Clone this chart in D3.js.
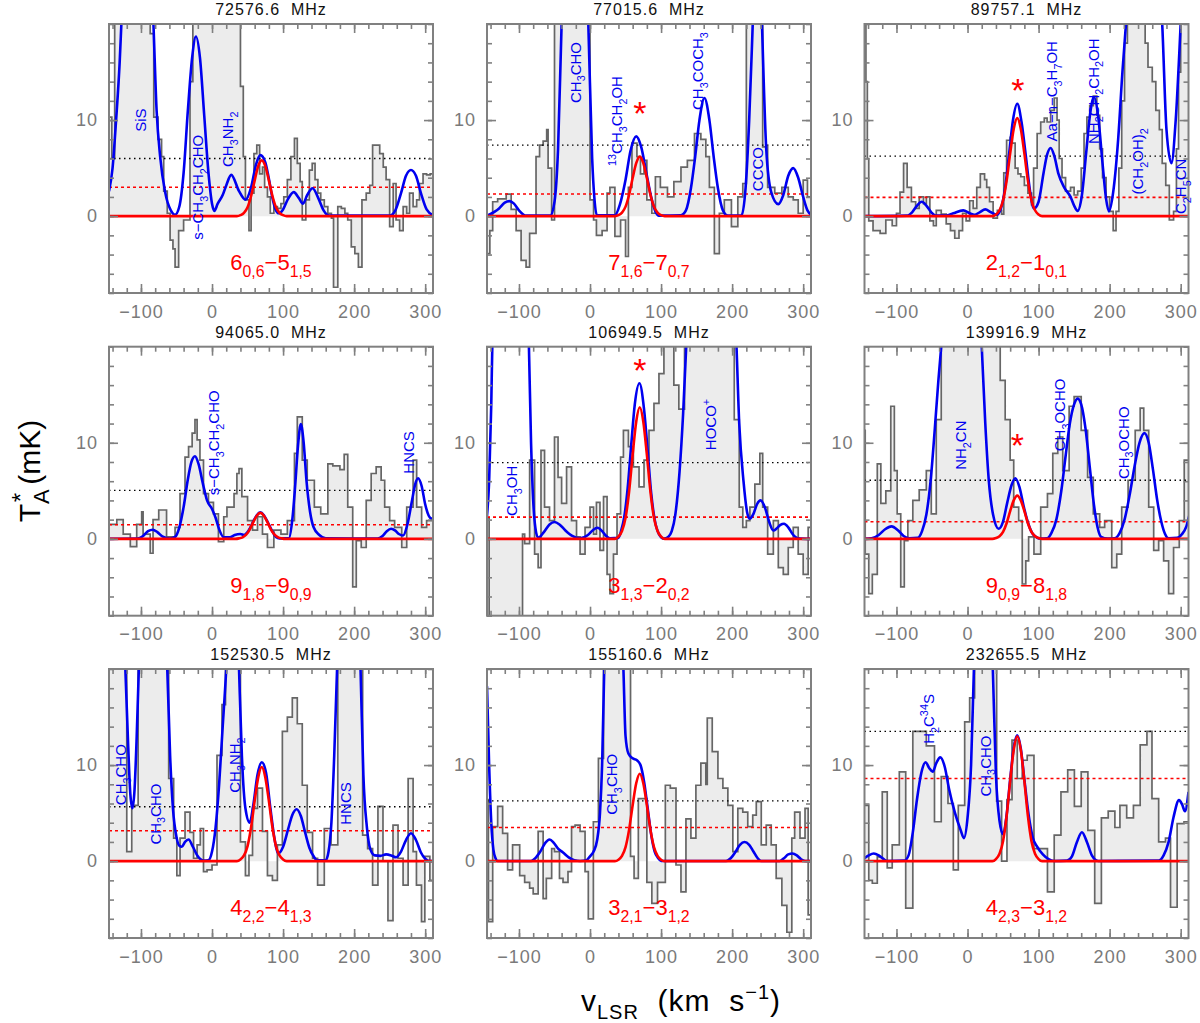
<!DOCTYPE html>
<meta charset="utf-8">
<style>
    body { margin: 0; background: #fff; }
    svg { display: block; }
    svg text { font-family: "Liberation Sans", Arial, Helvetica, sans-serif; }
    .title { font-size: 16px; fill: #111; letter-spacing: 1px; white-space: pre; }
    .axis text { font-size: 18px; fill: #7a7a7a; letter-spacing: 1px; }
    .axis line { stroke: #808080; stroke-width: 1.6px; }
</style>
<svg width="1200" height="1023"></svg>
<script src="https://cdn.jsdelivr.net/npm/d3@7/dist/d3.min.js"></script>
<script>

    // panel titles and transitions
    var frequencies = ["72576.6  MHz", "77015.6  MHz", "89757.1  MHz", "94065.0  MHz", "106949.5  MHz",
        "139916.9  MHz", "152530.5  MHz", "155160.6  MHz", "232655.5  MHz"];
    var transitions = ["6_{0,6}−5_{1,5}", "7_{1,6}−7_{0,7}", "2_{1,2}−1_{0,1}", "9_{1,8}−9_{0,9}", "3_{1,3}−2_{0,2}",
        "9_{0,9}−8_{1,8}", "4_{2,2}−4_{1,3}", "3_{2,1}−3_{1,2}", "4_{2,3}−3_{1,2}"];

    // dotted levels (mK)
    var levelBlack = [6.0, 7.4, 6.25, 5.05, 7.94, 6.1, 5.66, 6.28, 13.5];
    var levelRed = [3.0, 2.3, 1.95, 1.46, 2.26, 1.78, 3.16, 3.5, 8.6];

    // red asterisks [v, T]
    var stars = [null, [70, 11.5], [71, 13.9], null, [70, 18.3], [70, 10.5], null, null, null];

    // observed spectra: [v start of channel, T (mK)]
    var obs1 = [[-145,10.3],[-141,6.0],[-137,25],[-87,19],[-82,10.3],[-76,8],[-71,6.2],[-68,2.6],[-63,0.3],[-59,-2.5],[-55,-3.4],[-52,-5.3],[-47,-1.5],[-40,-0.4],[-31,14],[-27,25],[40,13.5],[44,6.2],[47,1.7],[52,-1.5],[55,2.4],[59,6.5],[63,7.4],[67,4.4],[71,5.1],[74,3.0],[78,2.0],[82,0.3],[87,1.0],[92,0.8],[97,1.3],[101,2.0],[106,3.8],[111,6.2],[116,8.1],[120,5.5],[124,3.6],[127,-0.4],[132,1.7],[137,4.8],[141,5.5],[145,3.8],[149,2.4],[153,1.7],[158,1.0],[163,0.3],[168,-0.2],[171,-7.4],[177,1.0],[182,0.8],[187,0.3],[191,-0.4],[196,-3.2],[201,-3.9],[206,-5.3],[211,1.7],[217,2.4],[222,3.2],[226,7.4],[231,7.4],[236,6.5],[241,5.1],[245,3.8],[250,-1.1],[255,3.4],[259,-0.4],[264,-1.5],[269,1.0],[274,0.3],[278,2.4],[283,1.0],[288,1.7],[292,3.4],[297,4.4],[302,4.3],[307,4.4],[312,4.4]];
    var obs2 = [[-145,-3.9],[-141,-1.5],[-137,1.5],[-130,1.8],[-118,2.3],[-111,0.7],[-104,-1.5],[-97,-4.6],[-90,-5.3],[-85,-1.8],[-76,6.2],[-71,7.4],[-66,7.8],[-61,9.0],[-59,5.0],[-54,-0.4],[-50,25],[0,1.7],[5,-0.4],[9,-2.0],[17,-1.5],[24,2.4],[28,3.0],[35,-2.1],[43,-0.4],[50,-4.2],[54,3.0],[59,7.6],[66,6.2],[71,4.4],[76,5.8],[80,1.7],[87,0.3],[92,4.1],[99,3.0],[109,2.0],[118,3.6],[128,5.1],[137,5.8],[147,8.6],[156,8.0],[163,6.2],[168,3.0],[175,-3.9],[182,0.3],[189,1.7],[199,-1.1],[208,2.0],[215,3.4],[220,25],[243,7.2],[250,3.0],[260,2.4],[270,3.0],[279,2.0],[286,1.7],[293,0.3],[300,3.75],[306,2.0],[312,2.0]];
    var obs3 = [[-145,20],[-143,14],[-141,6],[-139,-0.5],[-133,-1.5],[-123,-1.8],[-115,-0.4],[-106,-1.0],[-100,0.3],[-95,2.5],[-90,5.5],[-85,3.0],[-79,1.5],[-73,0.8],[-68,2.0],[-62,1.3],[-58,2.0],[-53,-0.5],[-48,-1.0],[-44,0.6],[-37,0.2],[-30,-0.8],[-24,-1.5],[-18,-2.3],[-12,-1.5],[-7,0.3],[-2,-0.5],[3,1.6],[8,0.8],[13,3.0],[18,4.4],[24,3.8],[27,3.0],[31,1.5],[36,-0.2],[42,0.6],[48,0.2],[51,4.5],[55,7.9],[60,8.2],[63,7.6],[67,5.0],[71,4.4],[75,4.1],[80,3.2],[85,2.4],[90,1.2],[93,5.0],[98,8.6],[103,9.8],[108,10.2],[112,9.8],[117,11.0],[122,12.3],[126,10.0],[129,6.0],[133,4.0],[138,2.6],[145,3.0],[150,2.2],[155,2.6],[160,5.0],[164,8.6],[168,10.3],[172,11.5],[177,12.5],[182,10.5],[186,7.0],[190,4.0],[195,2.0],[200,0.5],[205,-1.5],[209,0.5],[213,5],[217,12],[221,18],[225,25],[250,18],[254,15.5],[260,14],[265,11],[270,9],[274,5.5],[279,3.2],[284,-0.4],[290,0.5],[294,7],[297,15],[300,25],[312,25]];
    var obs4 = [[-145,1.5],[-134,2.0],[-125,0.5],[-115,-0.8],[-106,1.5],[-99,2.8],[-97,0.5],[-87,-1.5],[-83,2.0],[-75,3.0],[-64,0.2],[-52,1.2],[-45,4.7],[-38,8.5],[-33,9.6],[-28,11.0],[-24,12.4],[-21,10.3],[-17,8.2],[-12,4.7],[-5,3.8],[2,2.6],[9,-0.3],[16.5,2.3],[21,3.3],[31,4.7],[35,6.8],[38,7.3],[42,4.4],[50,1.9],[57,0.9],[64,2.3],[71,0.5],[78,-0.9],[87,0.9],[97,0.5],[106,1.9],[116,8.9],[120,12.7],[127,8.2],[134,6.1],[144,3.3],[153,2.6],[163,7.8],[170,7.6],[180,7.2],[186,8.8],[191,3.3],[198,-5.0],[203,-0.2],[210,-0.9],[217,4.0],[224,6.8],[231,7.5],[238,6.1],[243,3.3],[250,1.9],[257,1.2],[267,-0.9],[274,3.3],[283,8.2],[288,3.3],[295,1.2],[302,1.9],[312,1.9]];
    var obs5 = [[-145,2.2],[-142,-20],[-95,0.5],[-92,-0.5],[-85,8.2],[-78,-1.6],[-73,-3.0],[-69,9.2],[-64,3.3],[-57,1.9],[-50,10.6],[-45,6.4],[-40,3.7],[-33,7.5],[-26,1.9],[-19,0.2],[-14,-1.6],[-7,1.2],[0,3.3],[5,0.5],[9,3.8],[14,-1.2],[19,4.4],[24,-3.7],[28,-5.7],[33,-1.6],[38,2.6],[43,8.5],[47,11.3],[54,9.6],[61,7.5],[69,5.4],[76,8.2],[83,11.3],[90,14.1],[97,17.2],[104,22],[118,16],[125,13.5],[133,25],[203,12.4],[210,3.3],[215,1.2],[220,1.9],[225,3.3],[232,5.7],[239,8.9],[243,3.3],[250,-1.6],[258,1.9],[265,-3.0],[272,-3.7],[279,-0.9],[286,1.2],[293,-1.6],[300,-3.7],[307,1.2],[312,1.2]];
    var obs6 = [[-145,11.3],[-144,-1.6],[-139,-5.7],[-134,-3.7],[-127,7.8],[-122,3.7],[-115,5.0],[-108,13.8],[-103,7.1],[-99,2.6],[-94,-5.0],[-89,-0.2],[-84,1.9],[-77,4.0],[-68,5.1],[-58,7.1],[-51,2.6],[-44,12.4],[-37,25],[46,16.5],[53,12.4],[60,8.2],[65,3.3],[72,1.9],[77,-4.7],[82,-2.3],[86,0.2],[93.5,-1.6],[103,3.3],[112.5,4.7],[120,8.9],[127,10.6],[134,7.1],[143,13.8],[150,14.8],[160,11.3],[169,6.4],[177,2.6],[186,1.2],[193,1.9],[203,-3.0],[210,-1.6],[217,3.3],[226,6.1],[236,11.3],[243,13.6],[248,11.3],[255,3.3],[262,-1.2],[269,-0.2],[276,-2.3],[283,-5.7],[290,-0.9],[298,1.9],[305,8.2],[312,8.2]];
    var obs7 = [[-145,25],[-120,1.0],[-113,5.8],[-104,25],[-61,8.6],[-54,2.4],[-49.5,-1.5],[-45,2.4],[-38,5.1],[-31,3.0],[-26,0.3],[-21,1.7],[-16.5,3.4],[-12,-1.1],[-7,-0.9],[0,-0.4],[7,11.0],[14,16.3],[19,25],[40,2.0],[47,-1.5],[52,0.6],[57,5.5],[64,7.6],[71,3.1],[78,-1.5],[85,-2.0],[92,1.7],[99,13.5],[106,15],[113,17],[120,14.3],[127,7.9],[134,3.0],[141.5,0.3],[148.6,-2.5],[158,3.4],[167.5,1.7],[177,25],[212,2.7],[219,1.3],[226,-2.5],[233.5,5.7],[240.6,0],[247.6,-6.2],[254.7,3.75],[261.8,0.3],[268.9,-2.5],[276,8.6],[283,1.0],[287.7,-2.5],[294.8,-6.3],[299.5,0.5],[306.6,-2.0],[312,-2.0]];
    var obs8 = [[-145,6.4],[-143,-6.3],[-137,3.6],[-130,5.7],[-123,2.9],[-116,-0.9],[-109,1.7],[-99,-1.5],[-92,-2.2],[-85,-2.8],[-80,-3.4],[-73,3.1],[-66,-3.9],[-61.5,-1.8],[-54,1.3],[-50,1.0],[-43,-1.8],[-38,-2.2],[-31,-1.1],[-26,3.6],[-21,3.75],[-14,3.1],[-7,-1.1],[-2.4,-6.0],[4.7,4.1],[11.8,10.7],[19,25],[57,0.5],[62,-1.8],[68,6.5],[80,-2.2],[87,-4.4],[95,-2.2],[106,7.9],[113,7.6],[121,-0.4],[128,-3.2],[135,4.4],[142,2.4],[149,7.9],[156,10.2],[163,8.0],[165,14.9],[172,11.4],[180,8.6],[187,7.6],[194,5.8],[201,1.0],[208,5.5],[215,5.1],[222,3.6],[229,4.8],[234,6.2],[241,1.7],[248,3.75],[255,1.7],[262,-1.8],[270,-4.6],[277,-7.4],[284,2.4],[288,5.1],[295.5,2.4],[302.6,5.5],[307,-5.6],[312,-5.6]];
    var obs9 = [[-145,5.8],[-139,-2.0],[-134,-2.3],[-127,0.45],[-120,7.2],[-113,-0.7],[-106,1.7],[-96,9.3],[-87,-4.9],[-77,13.5],[-58,12.0],[-46.5,4.1],[-37,8.8],[-27.5,6.0],[-20,-0.9],[-13,5.8],[-4,14.5],[3,17],[10,25],[41,6.25],[48,0],[55.5,6.4],[62.6,12.6],[70,8.6],[77,10.5],[84,11.0],[93.5,1.3],[103,1.3],[112.5,-3.2],[122,2.7],[131.5,7.2],[141,9.5],[150.4,5.7],[160,9.3],[169.4,3.2],[179,-4.4],[188.4,4.5],[198,5.2],[207.4,3.5],[214.5,5.8],[224,4.5],[233.5,5.8],[243,12.1],[252.5,13.5],[259.6,6.5],[269,2.0],[278.6,2.4],[285.7,-4.8],[295,3.9],[304.7,4.1],[312,4.1]];

    // full model (blue), [v, T]
    var model1 = [[-145,2.6],[-140,5],[-135,10],[-130,16],[-127,21],[-105,40],[-83,21],[-78,11],[-73,6.2],[-66,2.5],[-58,0.6],[-52,0.15],[-46,1.0],[-40,4.5],[-34,11],[-28,16.5],[-22.6,18.7],[-17,16.5],[-11,10.5],[-5,4.5],[0,1.3],[3.3,0.55],[8,1.3],[15,2.2],[20,3.2],[27,4.3],[38,2.6],[47,1.7],[55,3.0],[62,5.4],[68,6.35],[75,5.6],[80,3.9],[85,1.9],[90,0.6],[94,0.3],[100,0.7],[107,1.8],[115,2.5],[122,1.9],[128,1.3],[134,2.2],[141.5,2.9],[150,1.8],[157,0.6],[165,0.05],[250,0.05],[258,0.6],[266,2.4],[273,4.2],[280,4.8],[287,4.2],[294,2.4],[302,0.7],[311,0.1]];
    var model2 = [[-145,0.05],[-128,0.8],[-120,1.4],[-113.5,1.56],[-107,1.3],[-100,0.6],[-90,0.05],[-56,0.05],[-50,1.5],[-45,7],[-40,20],[-21,45],[-2.4,20],[3,6],[6,2],[9.5,0.1],[35,0.1],[42,1.2],[50,3.8],[57,6.8],[65,8.3],[72,7.2],[79,4.6],[86,2.0],[92,0.5],[97,0.05],[128,0.1],[135,0.6],[142,2.9],[148,6.2],[154,10.0],[161,12.3],[168,10.0],[174,6.2],[180,2.9],[187,0.6],[194,0.05],[213,0.05],[219,3],[224,10],[229,20],[236,35],[242,20],[248,7],[255,2.5],[265,1.25],[272,2.2],[279,4.2],[286,5.0],[293,4.0],[300,2.0],[306,0.6],[312,0.1]];
    var model3 = [[-145,0],[-85,0.05],[-78,0.4],[-71,1.1],[-64.5,1.5],[-58,1.1],[-51,0.4],[-44,0.05],[-30,0.05],[-20,0.3],[-6,0.6],[3,0.3],[10,0.15],[17,0.4],[25,0.7],[33,0.4],[41,0.15],[47,0.8],[53,3.0],[59,6.8],[64,10],[70,11.7],[76,9.8],[82,6.3],[88,2.6],[93.5,0.8],[100,1.5],[107,4.5],[112,6.4],[117,7.1],[122,6.3],[128,4.4],[136,3.0],[145,2.0],[150,1.1],[155,0.55],[161,2.2],[167,6.6],[172,10.3],[178,12.4],[184,10.3],[190,5.5],[195,1.8],[199,0.5],[205,2.5],[212,8],[218,15],[224,21],[240,40],[262,30],[274,20],[280,9],[287,5.5],[293,10],[300,20],[312,40]];
    var model4 = [[-145,0],[-105,0.02],[-97,0.3],[-90,0.8],[-83.5,0.95],[-77,0.7],[-70,0.25],[-59,0.02],[-52,0.2],[-46,1.2],[-40,3.3],[-34,6.2],[-29,8.0],[-24,8.6],[-19,7.8],[-13,5.8],[-7,4.0],[0,3.1],[5,2.2],[10,1.0],[16.5,0.15],[25,0.15],[32,0.4],[40,0.5],[45,0.4],[50,0.7],[53,1.05],[58,1.8],[63,2.45],[68,2.75],[73,2.45],[78,1.8],[84,0.9],[90,0.2],[95,0.05],[108,0.05],[113,2.0],[117,5.5],[121,9.7],[125,11.95],[129,10.0],[133,6.0],[138,2.8],[143,1.2],[151,0.4],[160,0.05],[233,0.02],[240,0.3],[246,0.8],[252,1.05],[258,0.85],[263,0.5],[269,0.35],[275,1.5],[281,3.8],[286,5.7],[290,6.3],[295,5.5],[300,3.6],[305,2.4],[309,2.1],[312,2.2]];
    var model5 = [[-145,2.4],[-142,6],[-139,14],[-137,22],[-120,40],[-100,40],[-86,20],[-83,10],[-80,4],[-77,1.2],[-73,0.1],[-65,0.7],[-57,1.5],[-50,1.75],[-43,1.5],[-35,0.9],[-25,0.3],[-14,0.05],[-3,0.4],[4,0.9],[10.4,1.15],[17,0.8],[22,0.35],[28,0.05],[40,0.1],[44,0.9],[48,2.2],[53,5.3],[58,9.8],[63,14.0],[69.5,16.2],[76,13.5],[81,9.3],[86,4.8],[91,2.0],[97,0.5],[104,0.02],[110,0.2],[115,0.8],[120,2.5],[126,7],[131,13],[136,21],[170,45],[205,22],[210,12],[216,6],[221,2.8],[224.6,2.1],[230,2.6],[235,3.6],[240,4.0],[246,3.3],[252,1.8],[258,0.87],[263,1.1],[268,1.45],[273,1.57],[279,1.2],[285,0.5],[293,0.05],[312,0]];
    var model6 = [[-145,0],[-135,0.05],[-125,0.4],[-116,1.0],[-107,1.3],[-98,0.9],[-90,0.3],[-82,0.05],[-70,0.1],[-64,0.8],[-58,2.5],[-52,6],[-46,11.5],[-41,16.5],[-37,20],[-10,45],[20,20],[25,12],[30,6],[36,2.5],[43.7,1.05],[50,1.8],[56,3.8],[62,5.6],[67.4,6.3],[73,5.4],[79,3.4],[85,1.7],[92,0.5],[103,0.03],[112,0.05],[118,0.6],[125,2.0],[132,5],[138,8.6],[144,12],[150,14],[155,14.6],[160,14],[166,11.5],[172,7.5],[178,3.5],[183,1.2],[188,0.2],[197,0.02],[207,0.05],[214,0.6],[221,2.0],[228,4.5],[235,7.5],[242,10.0],[249,11.0],[255,10.0],[261,7.2],[267,4.0],[273,1.7],[278,0.5],[283,0.05],[295,0.1],[302,0.5],[308,1.3],[313,2.7]];
    var model7 = [[-145,40],[-122,20],[-118,12],[-115,7],[-112,5.5],[-109,7.5],[-106,13],[-103,20],[-85,40],[-63,20],[-59,11],[-55,5.5],[-50,2.5],[-46,1.6],[-42.5,1.5],[-38,2.0],[-33,2.25],[-27,1.5],[-20,0.5],[-12,0.05],[-5,0.1],[0,1.0],[5,3.5],[10,8],[15,14],[20,20],[30,40],[38,20],[42,11],[47,5.5],[53,4.0],[58,5.8],[64,9.0],[70,10.3],[76,9.2],[82,5.6],[88,2.3],[93,0.8],[100,1.5],[107,3.3],[113,4.8],[119,5.4],[125,4.7],[131,3.0],[137,1.4],[143,0.5],[148,0.1],[160,0.1],[164,1.0],[168,4],[172,11],[176,20],[192,40],[209,20],[213,9],[218,3.5],[223,1.2],[229,0.6],[237,0.55],[245,0.7],[252,0.6],[259,0.4],[266,1.0],[273,2.2],[280,2.9],[287,2.2],[294,0.9],[300,0.25],[304,0.05],[312,0]];
    var model8 = [[-145,18.2],[-142,10],[-139,4],[-136,1.2],[-133,0.3],[-130,0.02],[-83,0.02],[-77,0.3],[-70,1.0],[-63,1.9],[-57,2.25],[-51,1.9],[-45,1.3],[-38,0.9],[-30,0.4],[-22,0.1],[-14,0.02],[-5,0.1],[0,0.5],[5,1.0],[10,2.2],[14,5],[17,10],[20,20],[35,45],[47,20],[50,13],[54,11.2],[60,10.7],[66,10.5],[71,10.0],[76,8.3],[81,5.6],[86,2.8],[91,1.0],[96,0.3],[100,0.02],[191.5,0.02],[198,0.3],[205,1.0],[211,1.7],[217.5,2.0],[224,1.7],[230,1.0],[236,0.3],[241,0.02],[267,0.02],[273,0.3],[279,0.7],[285,0.8],[291,0.6],[297,0.2],[302.6,0.02],[312,0]];
    var model9 = [[-145,0.3],[-139,0.6],[-132,0.8],[-125,0.6],[-118,0.2],[-113,0.02],[-89,0.05],[-83,0.6],[-77,3.0],[-71,6.5],[-65,9.2],[-59,10.3],[-54,9.7],[-49,9.3],[-44,10.2],[-38.4,10.8],[-32,9.8],[-26,7.5],[-18,5.1],[-10,3.3],[-5,2.4],[0,4.5],[5,10],[9,20],[22,45],[35.6,20],[40,9],[45,4.2],[50,2.8],[55,4.8],[60,8.5],[65,11.8],[70,13.1],[75,11.7],[80,8.5],[86,4.8],[92,2.4],[98,1.5],[106,0.7],[114,0.2],[122,0.02],[140,0.05],[147,0.5],[154,2.0],[161,3.0],[168,2.0],[175,0.6],[184,0.02],[269,0.05],[276,0.6],[283,2.0],[290,4.6],[297.6,6.35],[302,5.9],[306,5.2],[311,7.2]];

    // fitted line of the target molecule (red), [v, T]
    var fit1 = [[35,0],[40,0.1],[45,0.35],[50,0.93],[55,2.1],[60,3.7],[65,5.2],[70,5.8],[75,5.2],[80,3.7],[85,2.1],[90,0.93],[95,0.35],[100,0.1],[105,0]];
    var fit2 = [[35,0],[40,0.1],[45,0.37],[50,0.99],[55,2.23],[60,3.97],[65,5.52],[70,6.2],[75,5.52],[80,3.97],[85,2.23],[90,0.99],[95,0.37],[100,0.1],[105,0]];
    var fit3 = [[35,0],[40,0.17],[45,0.61],[50,1.63],[55,3.67],[60,6.53],[65,9.08],[70,10.2],[75,9.08],[80,6.53],[85,3.67],[90,1.63],[95,0.61],[100,0.17],[105,0]];
    var fit4 = [[33,0],[38,0.05],[43,0.16],[48,0.43],[53,0.97],[58,1.73],[63,2.4],[68,2.7],[73,2.4],[78,1.73],[83,0.97],[88,0.43],[93,0.16],[98,0.05],[103,0]];
    var fit5 = [[35,0],[40,0.23],[45,0.82],[50,2.19],[55,4.93],[60,8.77],[65,12.19],[70,13.7],[75,12.19],[80,8.77],[85,4.93],[90,2.19],[95,0.82],[100,0.23],[105,0]];
    var fit6 = [[35,0],[40,0.08],[45,0.27],[50,0.72],[55,1.62],[60,2.88],[65,4.0],[70,4.5],[75,4.0],[80,2.88],[85,1.62],[90,0.72],[95,0.27],[100,0.08],[105,0]];
    var fit7 = [[35,0],[40,0.17],[45,0.59],[50,1.57],[55,3.53],[60,6.27],[65,8.72],[70,9.8],[75,8.72],[80,6.27],[85,3.53],[90,1.57],[95,0.59],[100,0.17],[105,0]];
    var fit8 = [[35,0],[40,0.15],[45,0.55],[50,1.46],[55,3.28],[60,5.82],[65,8.1],[70,9.1],[75,8.1],[80,5.82],[85,3.28],[90,1.46],[95,0.55],[100,0.15],[105,0]];
    var fit9 = [[35,0],[40,0.22],[45,0.78],[50,2.08],[55,4.68],[60,8.32],[65,11.57],[70,13.0],[75,11.57],[80,8.32],[85,4.68],[90,2.08],[95,0.78],[100,0.22],[105,0]];

    // blue species labels: [text, v, T] (centre of the rotated label)
    var labels1 = [["SiS", -101, 10], ["s−CH_3CH_2CHO", -20, 3.0], ["CH_3NH_2", 22, 8.0]];
    var labels2 = [["CH_3CHO", -21, 14.95], ["^{13}CH_3CH_2OH", 38, 9.9], ["CH_3COCH_3", 152, 15.1], ["CCCO", 236, 4.9]];
    var labels3 = [["Aa−n−C_3H_7OH", 119, 13.0], ["NH_2CH_2CH_2OH", 177, 13.0], ["(CH_2OH)_2", 240, 5.7], ["C_2H_5CN", 300.5, 3.1]];
    var labels4 = [["s−CH_3CH_2CHO", 2, 10], ["HNCS", 277, 9.0]];
    var labels5 = [["CH_3OH", -110.5, 5.0], ["HOCO^+", 170, 11.9]];
    var labels6 = [["NH_2CN", -10, 9.75], ["CH_3OCHO", 130, 12.9], ["CH_3OCHO", 219, 10.0]];
    var labels7 = [["CH_3CHO", -129, 9.0], ["CH_3CHO", -80, 4.9], ["CH_3NH_2", 32, 10.0], ["HNCS", 188.5, 6.0]];
    var labels8 = [["CH_3CHO", 30, 8.0]];
    var labels9 = [["H_2C^{34}S", -54.5, 14.8], ["CH_3CHO", 25, 9.9]];

    var observed = [obs1, obs2, obs3, obs4, obs5, obs6, obs7, obs8, obs9];
    var models = [model1, model2, model3, model4, model5, model6, model7, model8, model9];
    var fits = [fit1, fit2, fit3, fit4, fit5, fit6, fit7, fit8, fit9];
    var labels = [labels1, labels2, labels3, labels4, labels5, labels6, labels7, labels8, labels9];

    var svg = d3.select("svg");

    var colX = [109, 487, 864.5],
        rowY = [24, 346.7, 669],
        pw = 324,
        ph = 269;

    var x = d3.scaleLinear().domain([-145, 311]).range([0, pw]);
    var y = d3.scaleLinear().domain([-8, 20]).range([ph, 0]);

    // text with _sub and ^sup pieces
    function richText(el, str, size) {
        var re = /([_^])(\{[^}]*\}|.)|([^_^]+)/g, m, shift = 0;
        while ((m = re.exec(str)) !== null) {
            if (m[3]) {
                el.append("tspan").attr("dy", -shift).text(m[3]);
                shift = 0;
            } else {
                var s = m[1] === "_" ? 0.32 * size : -0.42 * size;
                el.append("tspan").attr("dy", s - shift)
                    .style("font-size", (0.72 * size) + "px")
                    .text(m[2].replace(/[{}]/g, ""));
                shift = s;
            }
        }
    }

    var area = d3.area()
        .x(function(d) { return x(d[0]); })
        .y0(y(0))
        .y1(function(d) { return y(d[1]); })
        .curve(d3.curveStepAfter);

    var step = d3.line()
        .x(function(d) { return x(d[0]); })
        .y(function(d) { return y(d[1]); })
        .curve(d3.curveStepAfter);

    var smooth = d3.line()
        .x(function(d) { return x(d[0]); })
        .y(function(d) { return y(d[1]); })
        .curve(d3.curveMonotoneX);

    function styleAxis(g) {
        g.select(".domain").remove();
        g.attr("class", "axis");
    }

    frequencies.forEach(function(freq, i) {
        var col = i % 3, row = Math.floor(i / 3);
        var g = svg.append("g").attr("transform", "translate(" + colX[col] + "," + rowY[row] + ")");

        g.append("clipPath").attr("id", "clip" + i)
            .append("rect").attr("width", pw).attr("height", ph);
        var plot = g.append("g").attr("clip-path", "url(#clip" + i + ")");

        // observed spectrum
        plot.append("path").datum(observed[i]).attr("d", area).attr("fill", "#ececec");
        plot.append("path").datum(observed[i]).attr("d", step)
            .attr("fill", "none").attr("stroke", "#666").attr("stroke-width", 1.7);

        // noise levels
        plot.append("line").attr("x1", 0).attr("x2", pw)
            .attr("y1", y(levelBlack[i])).attr("y2", y(levelBlack[i]))
            .attr("stroke", "#000").attr("stroke-width", 1.3).attr("stroke-dasharray", "1.5,3.5");
        plot.append("line").attr("x1", 0).attr("x2", pw)
            .attr("y1", y(levelRed[i])).attr("y2", y(levelRed[i]))
            .attr("stroke", "#ff0000").attr("stroke-width", 1.6).attr("stroke-dasharray", "3,3");

        // full model
        plot.append("path").datum(models[i]).attr("d", smooth)
            .attr("fill", "none").attr("stroke", "#0000f0").attr("stroke-width", 2.6);

        // target line, on a zero baseline across the panel
        var fitLine = [[x.domain()[0], 0]].concat(fits[i], [[x.domain()[1], 0]]);
        plot.append("path").datum(fitLine).attr("d", smooth)
            .attr("fill", "none").attr("stroke", "#ff0000").attr("stroke-width", 2.6);

        // frame
        g.append("rect").attr("width", pw).attr("height", ph)
            .attr("fill", "none").attr("stroke", "#808080").attr("stroke-width", 2);

        // ticks
        var majorX = [-100, 0, 100, 200, 300], minorX = d3.range(-140, 311, 20);
        var majorY = [0, 10], minorY = d3.range(-8, 21, 2);
        g.append("g").attr("transform", "translate(0," + ph + ")")
            .call(d3.axisBottom(x).tickValues(majorX).tickSize(-9).tickPadding(12)).call(styleAxis);
        g.append("g").attr("transform", "translate(0," + ph + ")")
            .call(d3.axisBottom(x).tickValues(minorX).tickSize(-5).tickFormat("")).call(styleAxis);
        g.append("g").call(d3.axisTop(x).tickValues(majorX).tickSize(-9).tickFormat("")).call(styleAxis);
        g.append("g").call(d3.axisTop(x).tickValues(minorX).tickSize(-5).tickFormat("")).call(styleAxis);
        g.append("g").call(d3.axisLeft(y).tickValues(majorY).tickSize(-9).tickPadding(11)).call(styleAxis);
        g.append("g").call(d3.axisLeft(y).tickValues(minorY).tickSize(-5).tickFormat("")).call(styleAxis);
        g.append("g").attr("transform", "translate(" + pw + ",0)")
            .call(d3.axisRight(y).tickValues(majorY).tickSize(-9).tickFormat("")).call(styleAxis);
        g.append("g").attr("transform", "translate(" + pw + ",0)")
            .call(d3.axisRight(y).tickValues(minorY).tickSize(-5).tickFormat("")).call(styleAxis);

        // title
        g.append("text").attr("class", "title")
            .attr("x", pw / 2).attr("y", -9).attr("text-anchor", "middle")
            .text(freq);

        // species labels
        labels[i].forEach(function(lb) {
            var t = g.append("text")
                .attr("transform", "translate(" + x(lb[1]) + "," + y(lb[2]) + ") rotate(-90)")
                .attr("y", 5.4)
                .attr("text-anchor", "middle")
                .attr("fill", "#0000f0")
                .style("font-size", "15px");
            richText(t, lb[0], 15);
        });

        // transition
        var tr = g.append("text")
            .attr("x", pw / 2).attr("y", y(-5.6))
            .attr("text-anchor", "middle")
            .attr("fill", "#ff0000")
            .style("font-size", "22px");
        richText(tr, transitions[i], 22);

        if (stars[i]) {
            g.append("text")
                .attr("x", x(stars[i][0])).attr("y", y(stars[i][1]))
                .attr("dy", "0.57em")
                .attr("text-anchor", "middle")
                .attr("fill", "#ff0000")
                .style("font-size", "34px")
                .text("*");
        }
    });

    // axis titles
    var yt = svg.append("text")
        .attr("transform", "translate(40,471) rotate(-90)")
        .attr("text-anchor", "middle")
        .style("font-size", "30px")
        .attr("fill", "#000");
    yt.append("tspan").text("T");
    yt.append("tspan").attr("dy", 9).style("font-size", "22px").text("A");
    yt.append("tspan").attr("dx", -13).attr("dy", -20).style("font-size", "24px").text("*");
    yt.append("tspan").attr("dy", 11).text("\u00a0(mK)");

    var xt = svg.append("text")
        .attr("x", 681).attr("y", 1011)
        .attr("text-anchor", "middle")
        .style("font-size", "30px")
        .style("letter-spacing", "1px")
        .style("white-space", "pre")
        .attr("fill", "#000");
    xt.append("tspan").text("v");
    xt.append("tspan").attr("dy", 8).style("font-size", "20px").text("LSR");
    xt.append("tspan").attr("dy", -8).text("  (km  s");
    xt.append("tspan").attr("dy", -12).style("font-size", "20px").text("−1");
    xt.append("tspan").attr("dy", 12).text(")");

</script>
